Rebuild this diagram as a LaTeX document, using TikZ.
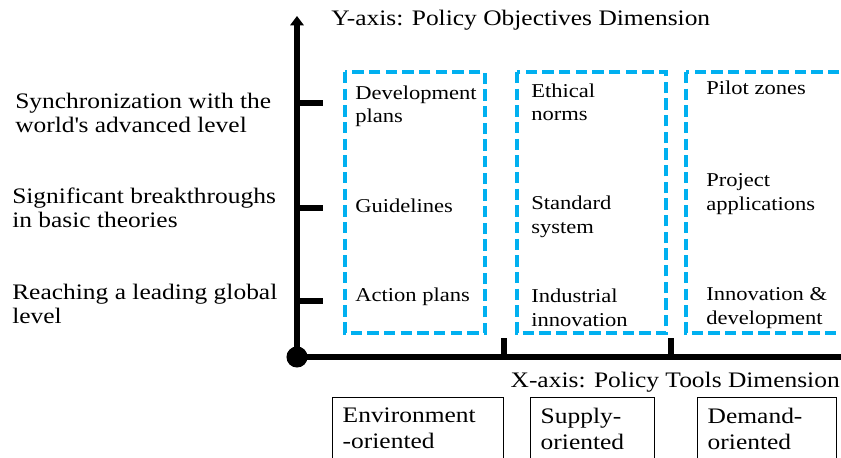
\documentclass[tikz,border=0pt]{standalone}
\usepackage{fontspec}
\setmainfont{Liberation Serif}[FakeStretch=1.15]
\usetikzlibrary{positioning,arrows.meta}
\definecolor{dashblue}{HTML}{00B0F0}
\tikzset{
  axisline/.style={line width=5pt},
  tickmark/.style={line width=4.5pt},
  toolbox/.style={draw=dashblue, line width=2.6pt, dash pattern=on 8.5pt off 4pt},
  cell/.style={anchor=west, inner sep=0pt, align=left, font=\fontsize{14.7}{17.6}\selectfont},
  goal/.style={anchor=west, inner sep=0pt, align=left, font=\fontsize{16.6}{18}\selectfont},
  axistitle/.style={inner sep=0pt, font=\fontsize{16.6}{18}\selectfont},
  tooltype/.style={draw, line width=1.1pt, anchor=north west, align=left, inner xsep=7.5pt,
                   minimum height=46.5pt, font=\fontsize{16.6}{19.5}\selectfont},
}

\begin{document}
\begin{tikzpicture}[x=0.75pt, y=-0.75pt]
\useasboundingbox (0,0) rectangle (841,457);
\clip (0,0) rectangle (841,457);

%Axes
\coordinate (origin) at (297,357);
\coordinate (ytop) at (297,16);
\coordinate (xend) at (850,357);
\draw[axisline, -{Triangle[length=7pt, width=10pt]}] (origin) -- (ytop);
\draw[axisline] (origin) -- (xend);
\fill (origin) circle (7.9pt);

%Ticks
\foreach \y in {103,208,301}
  \draw[tickmark] (297,\y) -- (323,\y);
\foreach \x in {504,671}
  \draw[tickmark] (\x,338) -- (\x,357);

%Dashed columns
\draw[toolbox] (345,72) rectangle (485,333);
\draw[toolbox] (517,72) rectangle (666,333);
\draw[toolbox] (686,72) rectangle (860,333);

%Titles
\node[axistitle, anchor=west] (ytitle) at (331,20) {Y-axis: Policy Objectives Dimension};
\node[axistitle, anchor=east] (xtitle) at (840,382) {X-axis: Policy Tools Dimension};

%Objectives
\node[goal] (sync) at (15,113) {Synchronization with the\\world\textquotesingle s advanced level};
\node[goal] (theory) at (12,207.5) {Significant breakthroughs\\in basic theories};
\node[goal] (leading) at (12,304) {Reaching a leading global\\level};

%Tools
\node[cell] (devplans) at (355,106.5) {Development\\plans};
\node[cell] (guidelines) at (355,206) {Guidelines};
\node[cell] (actionplans) at (355,297) {Action plans};
\node[cell] (ethics) at (531,102.5) {Ethical\\norms};
\node[cell] (standard) at (531,217) {Standard\\system};
\node[cell] (industrial) at (531,308) {Industrial\\innovation};
\node[cell] (pilot) at (706,88) {Pilot zones};
\node[cell] (project) at (706,194) {Project\\applications};
\node[cell] (innovdev) at (706,308) {Innovation \&\\development};

%Tool types
\node[tooltype, text width=113pt] (environment) at (332,397) {Environment\\-oriented};
\node[tooltype, text width=78pt] (supply) at (530,397) {Supply-\\oriented};
\node[tooltype, text width=89pt] (demand) at (697,397) {Demand-\\oriented};
\end{tikzpicture}
\end{document}
